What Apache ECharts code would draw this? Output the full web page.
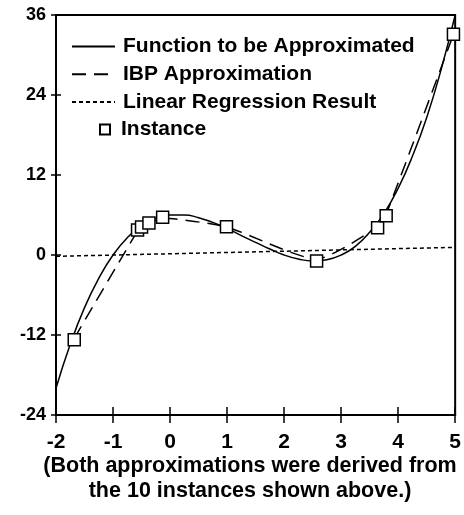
<!DOCTYPE html>
<html>
<head>
<meta charset="utf-8">
<script src="https://cdn.jsdelivr.net/npm/echarts@6/dist/echarts.min.js"></script>
<style>
  html, body { margin: 0; padding: 0; background: #fff; }
  #chart { width: 464px; height: 515px; }
</style>
</head>
<body>
<div id="chart"></div>
<script>
// function to be approximated
var funcX = [-2, -1.75, -1.5, -1.25, -1, -0.75, -0.5, -0.25, 0, 0.25, 0.5, 0.75, 1, 1.25, 1.5, 1.75,
  2, 2.25, 2.5, 2.75, 3, 3.25, 3.5, 3.75, 4, 4.25, 4.5, 4.75, 5];
var funcY = [-20, -13.4, -7.9, -3.5, 0, 2.6, 4.4, 5.5, 6, 6, 5.6, 4.9, 4, 2.9, 1.9, 0.9,
  0, -0.6, -0.9, -0.7, 0, 1.3, 3.4, 6.2, 10, 14.8, 20.6, 27.7, 36];
// instances (squares)
var instX = [-1.68, -0.57, -0.5, -0.37, -0.13, 0.99, 2.57, 3.64, 3.79, 4.97];
var instY = [-12.7, 3.75, 4.2, 4.8, 5.65, 4.25, -0.9, 4.1, 5.9, 33.1];
// IBP approximation (dashed), roughly joins the instances
var ibpX = [-1.68, -0.57, -0.5, -0.37, -0.13, 0.99, 2.57, 3.64, 3.79, 4.97];
var ibpY = [-12.5, 3.6, 4.1, 4.7, 5.5, 4.2, -0.6, 4.2, 6.1, 33.1];
// linear regression result (dotted)
var linX = [-2, 5];
var linY = [-0.2, 1.15];
var xTicks = { min: -2, max: 5, step: 1 };
var yTicks = { min: -24, max: 36, step: 12 };
var caption = ['(Both approximations were derived from', 'the 10 instances shown above.)'];

function pairs(xs, ys) {
  var out = [];
  for (var i = 0; i < xs.length; i++) out.push([xs[i], ys[i]]);
  return out;
}

var font = 'Liberation Sans';
var chart = echarts.init(document.getElementById('chart'));

function xAxisDef(inner) {
  return {
    type: 'value', position: 'bottom',
    min: xTicks.min, max: xTicks.max, interval: xTicks.step,
    axisLine: { show: !inner, onZero: false, lineStyle: { color: '#000', width: 2 } },
    axisTick: { show: true, inside: inner, length: 8, lineStyle: { color: '#000', width: 1.5 } },
    axisLabel: { show: !inner, margin: 17, color: '#000', fontFamily: font, fontWeight: 'bold', fontSize: 21 },
    splitLine: { show: false }
  };
}
function yAxisDef(inner) {
  return {
    type: 'value', position: 'left',
    min: yTicks.min, max: yTicks.max, interval: yTicks.step,
    axisLine: { show: !inner, onZero: false, lineStyle: { color: '#000', width: 2 } },
    axisTick: { show: true, inside: inner, length: 5, lineStyle: { color: '#000', width: 1.5 } },
    axisLabel: { show: !inner, margin: 10, color: '#000', fontFamily: font, fontWeight: 'bold', fontSize: 18 },
    splitLine: { show: false }
  };
}

var legendText = { fontFamily: font, fontWeight: 'bold', fontSize: 21, color: '#000', lineHeight: 20 };

chart.setOption({
  animation: false,
  backgroundColor: '#fff',
  grid: { left: 56, right: 7, top: 15, bottom: 100, show: true, borderColor: '#000', borderWidth: 2 },
  title: {
    text: caption.join('\n'),
    left: 245, top: 449, textAlign: 'center',
    textStyle: { fontFamily: font, fontSize: 21.5, fontWeight: 'bold', color: '#000', lineHeight: 25 }
  },
  legend: [{
    orient: 'vertical', left: 66, top: 31,
    itemWidth: 43, itemHeight: 20, itemGap: 6.7,
    itemStyle: { opacity: 0 },
    data: ['Function to be Approximated', 'IBP Approximation', 'Linear Regression Result'],
    textStyle: Object.assign({ padding: [0, 0, 0, 3] }, legendText)
  }, {
    orient: 'vertical', left: 94, top: 114,
    itemWidth: 10, itemHeight: 10,
    data: ['Instance'],
    textStyle: Object.assign({ padding: [0, 0, 0, 6] }, legendText)
  }],
  xAxis: [xAxisDef(false), xAxisDef(true)],
  yAxis: [yAxisDef(false), yAxisDef(true)],
  series: [{
    name: 'Function to be Approximated', type: 'line', smooth: true, symbol: 'none',
    data: pairs(funcX, funcY),
    lineStyle: { color: '#000', width: 1.5 }, itemStyle: { color: '#000' }
  }, {
    name: 'IBP Approximation', type: 'line', smooth: 0.2, symbol: 'none',
    data: pairs(ibpX, ibpY),
    lineStyle: { color: '#000', width: 1.5, type: [14, 8] }, itemStyle: { color: '#000' }
  }, {
    name: 'Linear Regression Result', type: 'line', symbol: 'none',
    data: pairs(linX, linY),
    lineStyle: { color: '#000', width: 1.5, type: [4, 3] }, itemStyle: { color: '#000' }
  }, {
    name: 'Instance', type: 'scatter', symbol: 'rect', symbolSize: 12, z: 5,
    data: pairs(instX, instY),
    itemStyle: { color: '#fff', borderColor: '#000', borderWidth: 1.5, opacity: 1 }
  }]
});
</script>
</body>
</html>
